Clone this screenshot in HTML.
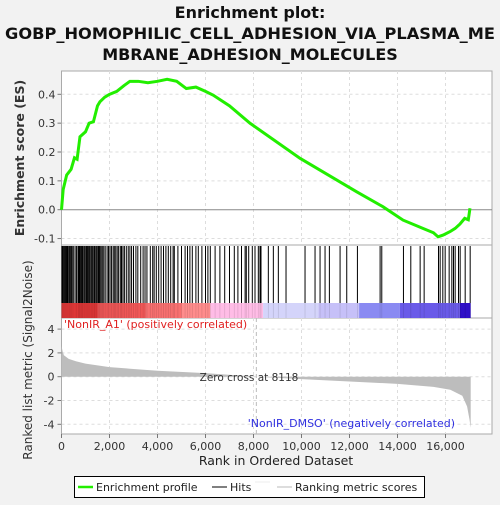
<!DOCTYPE html>
<html><head><meta charset="utf-8"><style>
body{margin:0;background:#f2f2f2;width:500px;height:500px;overflow:hidden;font-family:"Liberation Sans","DejaVu Sans",sans-serif}
svg text{font-family:"DejaVu Sans","Liberation Sans",sans-serif}
</style></head><body>
<svg id="c" width="500" height="500">
<text x="250" y="18" text-anchor="middle" font-size="16" font-weight="bold" fill="#111">Enrichment plot:</text>
<text x="250" y="39" text-anchor="middle" font-size="16" font-weight="bold" fill="#111" textLength="490" lengthAdjust="spacingAndGlyphs">GOBP_HOMOPHILIC_CELL_ADHESION_VIA_PLASMA_ME</text>
<text x="250" y="60" text-anchor="middle" font-size="16" font-weight="bold" fill="#111">MBRANE_ADHESION_MOLECULES</text>
<g id="g"></g>
</svg>
<script>
const esRanks=[0,70,215,400,540,650,770,1000,1150,1330,1500,1600,1800,2000,2300,2600,2850,3200,3600,4000,4400,4800,5200,5600,6000,6320,7000,7850,9940,12300,13400,14230,15070,15500,15690,15900,16190,16400,16600,16800,16950,17020];
const esValues=[0,0.07,0.12,0.14,0.18,0.175,0.253,0.27,0.30,0.305,0.36,0.374,0.39,0.40,0.41,0.43,0.445,0.445,0.44,0.445,0.452,0.445,0.42,0.425,0.41,0.397,0.36,0.30,0.178,0.062,0.01,-0.036,-0.065,-0.08,-0.094,-0.088,-0.076,-0.065,-0.05,-0.03,-0.035,0.005];
const hitRanks=[20,50,90,130,170,210,250,300,330,380,420,470,520,600,640,700,730,760,800,830,870,900,950,990,1040,1080,1120,1170,1220,1260,1300,1350,1380,1430,1470,1520,1560,1600,1650,1700,1760,1820,1900,1960,2020,2080,2150,2200,2260,2320,2380,2450,2500,2560,2620,2700,2780,2850,2920,3000,3100,3180,3300,3400,3480,3560,3700,3800,3860,3950,4050,4150,4250,4350,4450,4550,4650,4700,4850,5000,5150,5250,5350,5450,5600,5700,5850,6000,6100,6200,6400,6600,6800,7000,7200,7350,7500,7650,7700,7800,7950,8063,8201,8271,8313,8618,8827,9035,9355,10147,10564,10773,10981,11162,11607,11885,12330,13275,13345,14248,14554,14943,15110,15708,15777,15888,15986,16152,16264,16333,16403,16542,16611,16820,17028];
const metricRanks=[0,50,100,300,600,1000,2000,3000,4000,6000,8118,10000,12000,14000,15500,16200,16700,16900,17000,17050];
const metricValues=[2.6,2.1,1.8,1.5,1.3,1.1,0.8,0.65,0.5,0.3,0,-0.2,-0.4,-0.6,-0.85,-1.1,-1.6,-2.5,-3.6,-4.3];
const xTicks=[0,2000,4000,6000,8000,10000,12000,14000,16000];
const esTicks=[-0.1,0,0.1,0.2,0.3,0.4];
const mTicks=[-4,-2,0,2,4];
const L=61.5,R=492,N=17050;
const X=r=>L+r*0.024;
const ESY=v=>209.7-v*288.5;
const MY=v=>376.7-v*11.9;
const g=document.getElementById('g');
const NS='http://www.w3.org/2000/svg';
function mk(t,a,p){const e=document.createElementNS(NS,t);for(const k in a)e.setAttribute(k,a[k]);(p||g).appendChild(e);return e;}
let e;
e=mk('rect',{x:L,y:71,width:R-L,height:174,fill:'#fff',stroke:'#aaa'});


e=mk('rect',{x:L,y:245,width:R-L,height:73,fill:'#fff',stroke:'#aaa'});


e=mk('rect',{x:L,y:318,width:R-L,height:116,fill:'#fff',stroke:'#aaa'});


xTicks.forEach(t=>{
 if(t>0){mk('line',{x1:X(t),x2:X(t),y1:71,y2:245,stroke:'#ddd','stroke-dasharray':'3,3'});
 mk('line',{x1:X(t),x2:X(t),y1:318,y2:434,stroke:'#ddd','stroke-dasharray':'3,3'});}
 mk('line',{x1:X(t),x2:X(t),y1:434,y2:438,stroke:'#777'});
 e=mk('text',{x:X(t),y:450,'text-anchor':'middle','font-size':11,fill:'#333'});e.textContent=t.toLocaleString('en-US');
 
 
});
esTicks.forEach(t=>{
 if(t!==0)mk('line',{x1:L,x2:R,y1:ESY(t),y2:ESY(t),stroke:'#ddd','stroke-dasharray':'3,3'});
 mk('line',{x1:L-4,x2:L,y1:ESY(t),y2:ESY(t),stroke:'#777'});
 e=mk('text',{x:L-6,y:ESY(t)+4,'text-anchor':'end','font-size':11,fill:'#333'});e.textContent=t.toFixed(1);
 
 
});
mk('line',{x1:L,x2:R,y1:ESY(0),y2:ESY(0),stroke:'#888'});
mTicks.forEach(t=>{
 mk('line',{x1:L,x2:R,y1:MY(t),y2:MY(t),stroke:'#ddd','stroke-dasharray':'3,3'});
 mk('line',{x1:L-4,x2:L,y1:MY(t),y2:MY(t),stroke:'#777'});
 e=mk('text',{x:L-7,y:MY(t)+4,'text-anchor':'end','font-size':11,fill:'#333'});e.textContent=t;
 
 
});
hitRanks.forEach(r=>{e=mk('line',{x1:X(r),x2:X(r),y1:246,y2:303,stroke:'#000','stroke-width':1});
 
 });
const segs=[[0,1500,'#e83a3a'],[1500,3500,'#f25858'],[3500,5000,'#f87070'],[5000,6200,'#ff8c8c'],[6200,8400,'#ffbce6'],[8400,10700,'#d4d4fa'],[10700,12400,'#c6c0f8'],[12400,14100,'#8a8af2'],[14100,16600,'#6a5ae8'],[16600,17050,'#3010c8']];
segs.forEach(s=>mk('rect',{x:X(s[0]),y:303,width:X(s[1])-X(s[0]),height:15,fill:s[2]}));
hitRanks.forEach(r=>mk('line',{x1:X(r),x2:X(r),y1:303,y2:318,stroke:'rgba(0,0,0,0.12)','stroke-width':0.8}));
let d='M'+X(0)+','+MY(0);
metricRanks.forEach((r,i)=>d+=' L'+X(r)+','+MY(metricValues[i]));
d+=' L'+X(N)+','+MY(0)+' Z';
e=mk('path',{d:d,fill:'#bdbdbd'});


mk('line',{x1:X(8118),x2:X(8118),y1:318,y2:434,stroke:'#bbb','stroke-dasharray':'4,3'});
let p=esRanks.map((r,i)=>X(r)+','+ESY(esValues[i])).join(' ');
e=mk('polyline',{points:p,fill:'none',stroke:'#22ee00','stroke-width':3});


function txt(x,y,s,o,name){const t=mk('text',Object.assign({x:x,y:y},o));t.textContent=s;return t;}
txt(64,328,"'NonIR_A1' (positively correlated)",{'font-size':11,fill:'#e02020'},'positive-label');
txt(455,427,"'NonIR_DMSO' (negatively correlated)",{'font-size':11,fill:'#3030e0','text-anchor':'end'},'negative-label');
txt(249,381,"Zero cross at 8118",{'font-size':10.5,fill:'#333','text-anchor':'middle'},'zero-cross-label');
txt(276,465,"Rank in Ordered Dataset",{'font-size':12.5,fill:'#222','text-anchor':'middle'},'x-axis-title');
txt(0,0,"Enrichment score (ES)",{'font-size':12.5,'font-weight':'bold',fill:'#333','text-anchor':'middle',transform:'translate(24,158) rotate(-90)'},'es-axis-title');
txt(0,0,"Ranked list metric (Signal2Noise)",{'font-size':12,fill:'#333','text-anchor':'middle',transform:'translate(32,360) rotate(-90)'},'metric-axis-title');
e=mk('rect',{x:74.5,y:476.5,width:350,height:21,fill:'#fff',stroke:'#000'});


mk('line',{x1:78,x2:93,y1:487,y2:487,stroke:'#22ee00','stroke-width':2.5});
txt(96,491,"Enrichment profile",{'font-size':11,fill:'#222'},'legend-entry-profile');
mk('line',{x1:212,x2:227,y1:487,y2:487,stroke:'#000'});
txt(230,491,"Hits",{'font-size':11,fill:'#222'},'legend-entry-hits');
mk('line',{x1:255,x2:270,y1:482,y2:482,stroke:'#eee'});
mk('line',{x1:277,x2:292,y1:487,y2:487,stroke:'#bbb'});
txt(295,491,"Ranking metric scores",{'font-size':11,fill:'#222'},'legend-entry-metric');
</script>
</body></html>
